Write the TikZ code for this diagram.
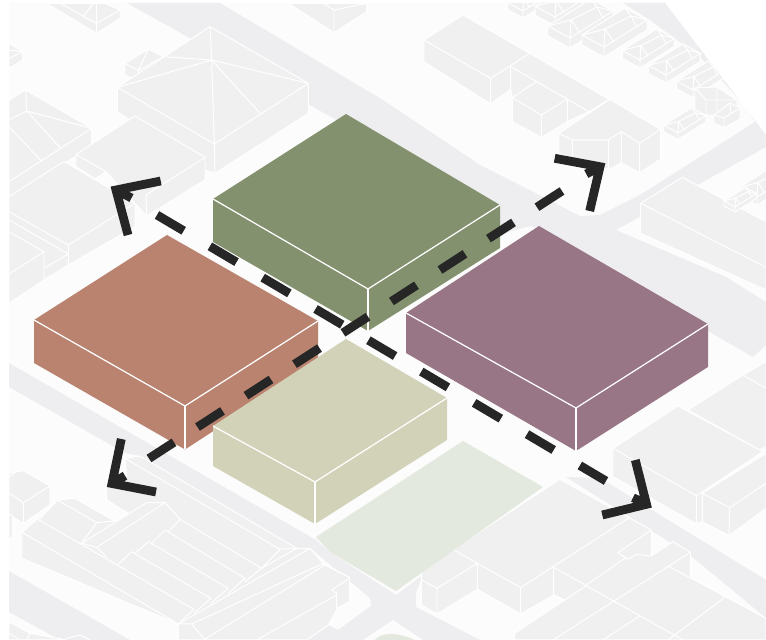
\documentclass[tikz,border=0pt]{standalone}
\usepackage{xcolor}
\usepackage{tikz}
\definecolor{groundcol}{RGB}{251,252,251}
\definecolor{roadcol}{RGB}{238,238,240}
\definecolor{bldgcol}{RGB}{239,240,239}
\definecolor{plotcol}{RGB}{228,233,223}
\definecolor{greenblock}{RGB}{132,145,110}
\definecolor{redblock}{RGB}{186,131,112}
\definecolor{purpleblock}{RGB}{152,118,133}
\definecolor{creamblock}{RGB}{210,210,184}
\definecolor{arrowcol}{RGB}{38,38,38}
\tikzset{
  bldg/.style={fill=bldgcol, draw=white, line width=.28pt, line join=round},
  edge/.style={draw=white, line width=.28pt},
  crop/.style 2 args={shift={(#1,#2)}, scale=1/3},
  wall/.style={draw=white, line width=.35pt},
  sweep/.style={draw=arrowcol, line width=2.5pt},
  tip/.style={draw=arrowcol, line width=2.5pt, miter limit=10}
}
\newcommand{\block}[8]{%
  \fill[#1] #2 -- #3 -- #4 -- #5 -- #6 -- #7 -- cycle;
  \draw[wall] #2 -- #8 -- #4;
  \draw[wall] #8 -- #6;
}
\begin{document}
\begin{tikzpicture}[x=0.01cm,y=-0.01cm]
  \useasboundingbox (0,0) rectangle (766,640);
  \fill[white] (0,0) rectangle (766,640);
  \begin{scope}
    \clip (9,3) -- (665,3) -- (766,135) -- (766,640) -- (9,640) -- cycle;
    \fill[groundcol] (0,0) rectangle (766,640);
    % roads
    \fill[roadcol] (220,3) -- (383,100) -- (480,165) -- (555,203) -- (580,216) -- (600,215) -- (640,195) -- (755,122) -- (746,107) -- (700,57) -- (650,20) -- (623,3) -- (670,3) -- (770,135) -- (766,147) -- (616,230) -- (726,277) -- (766,302) -- (766,345) -- (753,357) -- (708,331) -- (539,228) -- (530,226) -- (501,234) -- (490,200) -- (333,118) -- (127,3) -- cycle;
    \fill[roadcol] (9,363) -- (316,540) -- (330,552) -- (396,595) -- (423,575) -- (416,592) -- (416,607) -- (480,640) -- (307,640) -- (328,625) -- (338,630) -- (371,606) -- (370,598) -- (310,548) -- (297,548) -- (140,456) -- (125,453) -- (9,387) -- cycle;
    \fill[roadcol] (9,571) -- (130,640) -- (60,640) -- (9,612) -- cycle;
    \fill[roadcol] (566,477) -- (600,478) -- (766,580) -- (766,618) -- (690,555) -- cycle;
    \fill[groundcol] (363,640) -- (393,620) -- (423,640) -- cycle;
    \fill[plotcol] (375,640) .. controls (380,633) and (395,631) .. (415,640) -- cycle;
    % buildings, top left
    \begin{scope}[crop={0}{0}]
      \draw[bldg] (140,10) -- (290,100) -- (360,55) -- (360,30) -- (315,10) -- cycle;
      \draw[edge] (290,100) -- (290,70) -- (360,30) (290,70) -- (180,10) (290,70) -- (290,10) (290,70) -- (250,50) -- (280,10);
      \draw[bldg] (865,10) -- (1002,98) -- (1100,35) -- (1100,10) -- cycle;
      \draw[edge] (1002,98) -- (1002,30) -- (1100,10) (1002,30) -- (970,10);
      \draw[bldg] (27,130) -- (68,155) -- (68,180) -- (27,205) -- cycle;
      \draw[edge] (27,175) -- (68,155) (27,150) -- (68,155);
      \draw[bldg] (375,190) -- (445,147) -- (490,170) -- (440,215) -- (415,245) -- (375,225) -- cycle;
      \draw[edge] (375,190) -- (415,212) -- (445,147) (415,212) -- (490,170) (415,212) -- (415,245);
      \draw[bldg] (352,262) -- (630,80) -- (925,250) -- (925,340) -- (645,520) -- (615,510) -- (352,335) -- cycle;
      \draw[edge] (352,262) -- (643,432) -- (925,250) (643,432) -- (645,520) (643,432) -- (635,180) -- (630,80) (352,262) -- (635,180) -- (925,250) (635,180) -- (782,342) (635,180) -- (490,170);
      \draw[bldg] (27,300) -- (77,270) -- (275,385) -- (275,440) -- (27,590) -- cycle;
      \draw[edge] (77,270) -- (80,333) -- (275,385) (80,333) -- (27,360) (80,333) -- (182,445) (27,380) -- (123,482) (275,385) -- (27,545) (27,545) -- (27,590);
      \draw[bldg] (405,348) -- (615,472) -- (615,540) -- (440,648) -- (405,610) -- (318,515) -- (285,537) -- (228,500) -- (228,463) -- cycle;
      \draw[edge] (228,463) -- (318,515) (615,472) -- (438,585) -- (440,648);
      \draw[bldg] (192,484) -- (405,610) -- (405,680) -- (205,795) -- (132,840) -- (27,910) -- (27,590) -- cycle;
      \draw[edge] (27,635) -- (205,735) -- (405,610) (205,735) -- (205,795) (27,660) -- (205,762) -- (132,805) (27,695) -- (132,755) -- (132,840) (132,755) -- (27,822);
    \end{scope}
    % buildings, top right
    \begin{scope}[crop={383}{0}]
      \draw[bldg] (240,45) -- (440,160) -- (678,298) -- (618,335) -- (553,365) -- (475,412) -- (388,365) -- (388,290) -- (383,268) -- (323,312) -- (123,185) -- (123,120) -- cycle;
      \draw[edge] (123,120) -- (323,235) -- (323,312) (323,235) -- (440,160) (383,200) -- (383,268) (383,200) -- (618,335) (460,245) -- (388,293) (460,245) -- (553,297) -- (475,345) -- (388,293) (475,345) -- (475,412) (553,297) -- (553,365);
      \draw[bldg] (680,298) -- (832,388) -- (832,478) -- (770,518) -- (715,488) -- (680,508) -- (568,480) -- (528,460) -- (528,400) -- cycle;
      \draw[edge] (528,400) -- (568,420) -- (676,420) -- (715,395) -- (770,430) -- (832,388) (568,420) -- (568,480) (676,420) -- (676,505) (715,395) -- (715,488) (770,430) -- (770,518);
      \draw[bldg] (898,532) -- (1149,665) -- (1149,870) -- (773,700) -- (773,610) -- cycle;
      \draw[edge] (773,610) -- (1149,802);
    \end{scope}
    \foreach \x/\y/\s in {523/11/.7, 555/17/.9, 570/38/1, 604/47/1, 640/60/.8, 666/75/.8, 693/90/.75, 678/133/.65, 757/197/.8, 785/178/.8, 735/207/.5} {
      \begin{scope}[shift={(\x,\y)}, scale=\s]
        \draw[bldg] (-22,-12) -- (21,-39) -- (43,-27) -- (43,-17) -- (0,10) -- (-22,-2) -- cycle;
        \draw[edge] (-22,-12) -- (0,0) -- (43,-27) (0,0) -- (0,10) (-22,-12) -- (1,-18) -- (0,0) (1,-18) -- (27,-31) -- (21,-39) (27,-31) -- (43,-27) (27,-31) -- (33,-20) (1,-18) -- (10,-5);
      \end{scope}
    }
    % box houses by the far edge
    \draw[bldg] (695,88) -- (717,87) -- (737,100) -- (737,115) -- (706,115) -- (695,110) -- cycle;
    \draw[edge] (695,88) -- (706,100) -- (737,100) (706,100) -- (706,115) (717,87) -- (717,112);
    \draw[bldg] (714,115) -- (730,103) -- (740,108) -- (740,119) -- (724,128) -- (714,123) -- cycle;
    \draw[edge] (714,115) -- (724,118) -- (740,108) (724,118) -- (724,128) (730,103) -- (731,113);
    % buildings, bottom left
    \begin{scope}[crop={0}{320}]
      \draw[bldg] (27,460) -- (70,452) -- (150,498) -- (150,555) -- (70,610) -- (27,585) -- cycle;
      \draw[edge] (27,520) -- (70,548) -- (150,498) (70,548) -- (70,610) (27,470) -- (50,455);
      \draw[bldg] (27,580) -- (38,590) -- (38,650) -- (27,655) -- cycle;
      \draw[bldg] (375,415) -- (420,408) -- (890,685) -- (930,685) -- (970,730) -- (1048,772) -- (1048,845) -- (1010,865) -- (1010,870) -- (985,915) -- (920,960) -- (535,960) -- (535,912) -- (66,715) -- (66,637) -- (112,597) -- (172,540) -- (225,535) -- (345,603) -- (385,580) -- (320,540) -- (320,500) -- (380,470) -- cycle;
      \draw[edge] (375,415) -- (840,688) -- (890,685) -- (785,745) -- (840,688);
      \draw[edge] (440,548) -- (245,670) -- (290,682) -- (495,548) -- (440,548) (290,682) -- (320,712) (495,548) -- (540,598) -- (785,745) -- (735,785) (540,598) -- (505,635);
      \draw[edge] (495,630) -- (735,775) -- (685,820) (495,630) -- (455,670) (445,665) -- (685,805) -- (632,850) (445,665) -- (405,700) (395,695) -- (632,835) -- (582,880) (395,695) -- (355,733);
      \draw[edge] (112,597) -- (582,868) -- (535,912) -- (66,637) (172,540) -- (290,608) -- (245,670) (225,535) -- (345,603) -- (290,608) (172,540) -- (120,597);
      \draw[edge] (535,912) -- (930,685) -- (970,730) -- (575,912) -- (535,912) (575,912) -- (615,960) (970,733) -- (1048,772) (1010,825) -- (770,960) (1048,775) -- (995,810) -- (1010,820) -- (1010,870) (975,735) -- (610,960);
      \draw[bldg] (27,905) -- (90,940) -- (200,960) -- (27,960) -- cycle;
      \draw[edge] (90,940) -- (80,960) (200,955) -- (240,945) -- (270,960) (27,940) -- (60,960);
    \end{scope}
    % buildings, bottom right
    \begin{scope}[crop={383}{320}]
      \draw[bldg] (915,270) -- (1080,165) -- (1149,125) -- (1149,380) -- (1130,390) -- cycle;
      \draw[edge] (1080,165) -- (1149,205);
      \draw[bldg] (885,258) -- (1140,395) -- (958,520) -- (958,605) -- (940,612) -- (690,470) -- (690,385) -- cycle;
      \draw[edge] (690,385) -- (940,527) -- (1140,395) (940,527) -- (940,612);
      \draw[bldg] (958,520) -- (1149,400) -- (1149,565) -- (1038,647) -- (958,605) -- cycle;
      \draw[edge] (958,520) -- (1040,563) -- (1149,490) (1040,563) -- (1038,647);
      \draw[bldg] (530,478) -- (805,630) -- (805,708) -- (870,665) -- (922,697) -- (922,770) -- (1149,895) -- (1149,960) -- (395,960) -- (395,940) -- (610,797) -- (545,840) -- (512,825) -- (413,882) -- (283,808) -- (162,882) -- (115,855) -- (115,750) -- cycle;
      \draw[edge] (210,688) -- (283,730) -- (283,808) (283,730) -- (162,805) -- (162,882) (115,780) -- (162,805) (283,730) -- (413,803) -- (413,882) (413,803) -- (740,592) (512,742) -- (512,825) (512,742) -- (1149,1100);
      \draw[edge] (805,630) -- (705,698) -- (735,718) -- (760,703) -- (805,708) (730,712) -- (610,795) (922,697) -- (510,960) (855,738) -- (1149,895) (1025,832) -- (855,960) (770,888) -- (660,960);
    \end{scope}
    % plot
    \fill[plotcol] (463,441) -- (543,487) -- (396,591) -- (330,552) -- (316,537) -- cycle;
  \end{scope}
  % blocks
  \block{greenblock}{(213,199)}{(346,114)}{(500,205)}{(500,248)}{(368,331)}{(213,242)}{(368,289)}
  \block{redblock}{(34,320)}{(167,235)}{(318,321)}{(318,363)}{(185,449.5)}{(34,363)}{(185,406)}
  \block{purpleblock}{(406,313)}{(539,226)}{(708,324)}{(708,367)}{(576,451)}{(406,353)}{(576,408)}
  \block{creamblock}{(213,426)}{(346,339)}{(447,398)}{(447,440)}{(315,524)}{(213,466)}{(315,482)}
  % sweep lines
  \draw[sweep, dash pattern=on 8.82pt off 8.65pt] (157,215) -- (606,481);
  \draw[sweep, dash pattern=on 8.48pt off 7.95pt] (149,458.5) -- (562,191);
  % arrow heads
  \draw[tip] (160.7,181) -- (116,190) -- (128,235) (116,190) -- (131.5,198);
  \draw[tip] (554.7,158.3) -- (600,166.7) -- (589.7,211) (600,166.7) -- (586.3,174);
  \draw[tip] (121.3,439) -- (112,483.5) -- (156,492) (112,483.5) -- (125,475.7);
  \draw[tip] (635.3,460) -- (646.5,504.3) -- (602.3,515) (646.5,504.3) -- (633,497.7);
\end{tikzpicture}
\end{document}
